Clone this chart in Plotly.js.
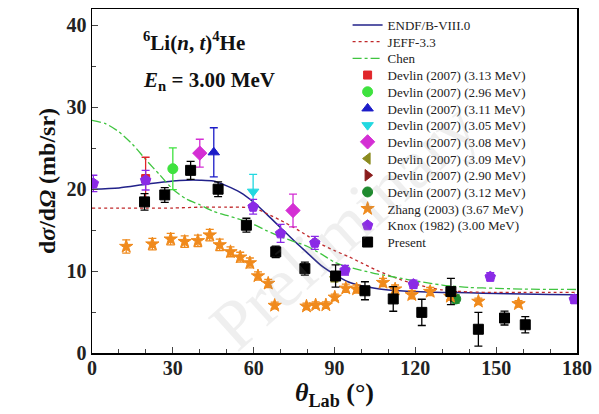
<!DOCTYPE html>
<html><head><meta charset="utf-8">
<script src="https://cdn.plot.ly/plotly-3.0.1.min.js"></script>
<style>html,body{margin:0;padding:0;background:#fff}#chart{width:599px;height:414px}</style>
</head><body><div id="chart"></div>
<script>
// Evaluated curves
const endfX = [0,10,20,30,35,40,45,50,55,60,65,70,75,80,85,90,95,100,105,110,120,130,140,150,160,170,180];
const endfY = [20.0,20.15,20.6,21.0,21.1,21.1,21.0,20.4,19.6,18.4,16.9,15.3,13.7,12.2,10.7,9.6,8.7,8.2,7.9,7.7,7.5,7.4,7.35,7.25,7.2,7.15,7.1];
const jeffX = [0,10,20,30,40,50,60,65,70,75,80,85,90,95,100,105,110,115,120,125,130,140,150,160,170,180];
const jeffY = [17.7,17.7,17.7,17.7,17.8,17.8,17.7,17.0,16.2,15.3,14.3,13.3,12.5,11.8,11.0,10.2,9.5,8.9,8.4,8.0,7.7,7.45,7.4,7.4,7.4,7.4];
const chenX = [0,5,10,15,20,25,30,35,40,45,50,55,60,65,70,75,80,85,90,95,100,105,110,115,120,130,140,150,160,180];
const chenY = [28.4,28.0,27.0,25.5,23.6,21.8,20.0,18.8,18.1,17.3,16.8,16.3,15.7,14.9,14.2,13.6,13.0,12.1,11.1,10.5,10.1,9.7,9.4,9.1,8.8,8.3,8.0,7.9,7.8,7.75];

// Devlin (2007)
const d313X = [19.9], d313Y = [21.3], d313E = [2.6];
const d296X = [30.0], d296Y = [22.5], d296E = [2.55];
const d311X = [45.2], d311Y = [24.5], d311E = [3.0];
const d305X = [59.8], d305Y = [19.7], d305E = [2.1];
const d308X = [40.0, 74.6], d308Y = [24.4, 17.4], d308E = [1.7, 2.0];
const d309X = [90.0], d309Y = [9.3], d309E = [0.6];
const d290X = [134.0], d290Y = [7.0], d290E = [0.5];
const d312X = [135.0], d312Y = [6.6], d312E = [0.5];

// Zhang (2003)
const zhX = [12.7,22.4,29.2,34.4,39.3,43.7,47.4,51.4,55.0,58.6,61.6,65.4,67.8,79.6,83.0,86.8,90.1,94.2,98.2,108.0,112.5,118.7,125.5,133.0,143.4,158.3];
const zhY = [13.0,13.3,13.9,13.6,13.7,14.4,13.2,12.35,11.7,11.0,9.4,8.5,5.8,5.7,5.85,5.85,6.8,7.9,7.8,8.6,7.8,7.1,7.5,6.9,6.3,6.0];
const zhE = [0.8,0.7,0.7,0.7,0.7,0.7,0.7,0.6,0.6,0.6,0.5,0.5,0.4,0.4,0.4,0.4,0.4,0.5,0.5,0.5,0.5,0.5,0.5,0.4,0.4,0.4];

// Knox (1982)
const knX = [0.5,19.9,59.8,70.0,82.7,93.9,119.3,147.8,179.0];
const knY = [20.7,21.1,17.85,14.6,13.45,10.1,8.4,9.3,6.55];
const knE = [1.0,1.2,0.9,1.1,0.8,0.6,0.5,0.5,0.5];

// Present
const prX = [19.5,27.0,36.6,46.8,57.3,68.2,79.0,90.4,101.3,111.8,122.4,133.2,143.4,153.1,160.8];
const prY = [18.45,19.3,22.3,20.0,15.6,12.35,10.3,9.4,7.6,6.6,4.96,7.5,2.9,4.27,3.45];
const prE = [1.0,0.9,1.1,0.9,0.85,0.7,0.8,1.35,1.1,1.5,1.6,1.6,2.05,0.85,1.0];

function pts(name, x, y, e, color, symbol, size) {
  return {type:'scatter', mode:'markers', name:name, x:x, y:y,
    error_y:{type:'data', array:e, visible:true, color:color, thickness:1.3, width:4},
    marker:{color:color, symbol:symbol, size:size||9, line:{color:color, width:1}}};
}

const traces = [
  {type:'scatter', mode:'lines', name:'ENDF/B-VIII.0', x:endfX, y:endfY, line:{color:'#22228a', width:1.5, shape:'spline', smoothing:0.7}},
  {type:'scatter', mode:'lines', name:'JEFF-3.3', x:jeffX, y:jeffY, line:{color:'#c0282a', width:1.3, dash:'dot', shape:'spline', smoothing:0.7}},
  {type:'scatter', mode:'lines', name:'Chen', x:chenX, y:chenY, line:{color:'#3fc43f', width:1.3, dash:'dashdot', shape:'spline', smoothing:0.7}},
  pts('Devlin (2007) (3.13 MeV)', d313X, d313Y, d313E, '#e0262a', 'square', 8),
  pts('Devlin (2007) (2.96 MeV)', d296X, d296Y, d296E, '#3ee23e', 'circle', 10),
  pts('Devlin (2007) (3.11 MeV)', d311X, d311Y, d311E, '#1c1cc8', 'triangle-up', 10),
  pts('Devlin (2007) (3.05 MeV)', d305X, d305Y, d305E, '#22d8e0', 'triangle-down', 10),
  pts('Devlin (2007) (3.08 MeV)', d308X, d308Y, d308E, '#d42ed4', 'diamond', 11),
  pts('Devlin (2007) (3.09 MeV)', d309X, d309Y, d309E, '#8a8a1e', 'triangle-left', 10),
  pts('Devlin (2007) (2.90 MeV)', d290X, d290Y, d290E, '#8a1c1c', 'triangle-right', 10),
  pts('Devlin (2007) (3.12 MeV)', d312X, d312Y, d312E, '#1e8a2e', 'circle', 10),
  pts('Zhang (2003) (3.67 MeV)', zhX, zhY, zhE, '#f08a1c', 'star', 10),
  pts('Knox (1982) (3.00 MeV)', knX, knY, knE, '#8a2ae6', 'pentagon', 11),
  pts('Present', prX, prY, prE, '#000000', 'square', 10)
];

const serif = 'Liberation Serif, Times New Roman, serif';
const layout = {
  width:599, height:414,
  margin:{l:92, r:22, t:9, b:61},
  paper_bgcolor:'#fff', plot_bgcolor:'#fff',
  showlegend:true,
  xaxis:{range:[0,180], tickvals:[0,30,60,90,120,150,180], ticks:'inside', ticklen:6, tickwidth:1.2,
    minor:{dtick:10, ticks:'inside', ticklen:4, tickwidth:1},
    showline:true, linecolor:'#000', linewidth:1.5, mirror:true, showgrid:false, zeroline:false,
    ticklabelstandoff:-4,
    tickfont:{family:serif, size:20, color:'#222', weight:'bold'},
    title:{text:'<b><i>θ</i><sub>Lab</sub> (°)</b>', font:{family:serif, size:26, color:'#111'}, standoff:0}},
  yaxis:{range:[0,42], tickvals:[0,10,20,30,40], ticks:'inside', ticklen:6, tickwidth:1.2,
    minor:{dtick:5, ticks:'inside', ticklen:4, tickwidth:1},
    showline:true, linecolor:'#000', linewidth:1.5, mirror:true, showgrid:false, zeroline:false,
    tickfont:{family:serif, size:20, color:'#222', weight:'bold'},
    title:{text:'<b>d<i>σ</i>/d<i>Ω</i> (mb/sr)</b>', font:{family:serif, size:24, color:'#111'}, standoff:4}},
  annotations:[
    {xref:'paper', yref:'paper', x:0.1, y:0.905, xanchor:'left', yanchor:'middle', showarrow:false,
     text:'<b><sup>6</sup>Li(<i>n</i>, <i>t</i>)<sup>4</sup>He</b>', font:{family:serif, size:21, color:'#111'}},
    {xref:'paper', yref:'paper', x:0.1, y:0.79, xanchor:'left', yanchor:'middle', showarrow:false,
     text:'<b><i>E</i><sub>n</sub> = 3.00 MeV</b>', font:{family:serif, size:21, color:'#111'}},
    {xref:'paper', yref:'paper', x:0.52, y:0.37, xanchor:'center', yanchor:'middle', showarrow:false, textangle:-42,
     text:'Preliminary', font:{family:serif, size:70, color:'rgba(150,150,150,0.15)'}}
  ]
};

// one legend per entry so rows can sit as tightly as in the reference
const rowTop = 25, rowStep = 16.7, plotTop = 9, plotBottom = 353;
traces.forEach((t, i) => {
  const key = i === 0 ? 'legend' : 'legend' + (i + 1);
  t.legend = key;
  const py = rowTop + i * rowStep;
  layout[key] = {x:0.527, y:(plotBottom - py) / (plotBottom - plotTop), xanchor:'left', yanchor:'middle',
    bgcolor:'rgba(0,0,0,0)', borderwidth:0, itemwidth:30,
    font:{family:serif, size:13, color:'#222'}};
});

Plotly.newPlot('chart', traces, layout, {displayModeBar:false, staticPlot:true});
</script></body></html>
